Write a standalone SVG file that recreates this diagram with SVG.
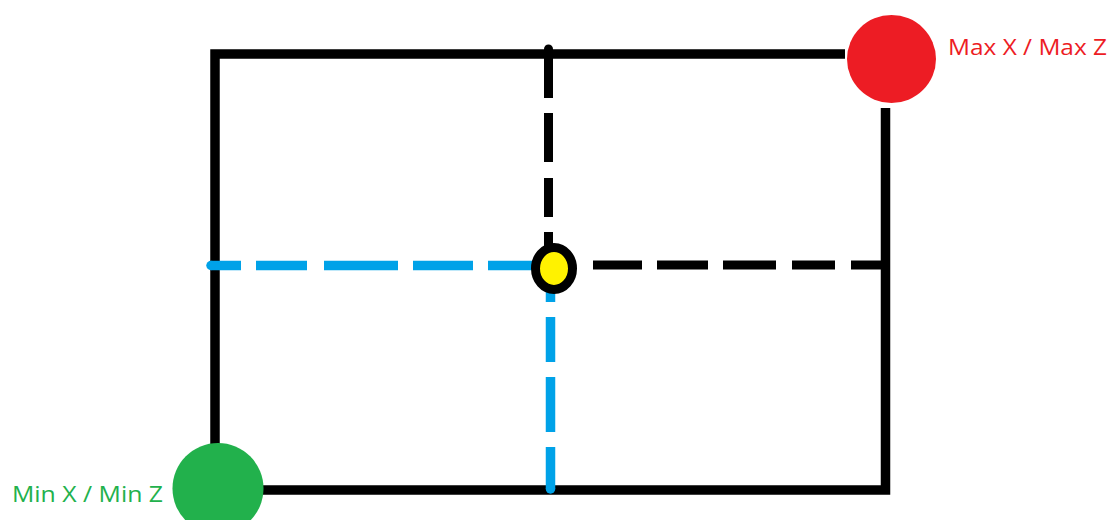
<svg xmlns="http://www.w3.org/2000/svg" width="1115" height="520" viewBox="0 0 1115 520">
  <style>
    .frame { fill: none; stroke: #000; stroke-width: 9.5; stroke-linejoin: miter; stroke-linecap: butt; }
    .dash-k { stroke: #000; stroke-width: 9; stroke-linecap: butt; }
    .dash-b { stroke: #00A2E8; stroke-width: 9.5; stroke-linecap: butt; }
    .lbl { font-family: "Open Sans", "Liberation Sans", sans-serif; font-size: 22px; }
  </style>
  <rect width="1115" height="520" fill="#fff"/>
  <g id="frame">
    <path class="frame" d="M215 445 V54 H845"/>
    <path class="frame" d="M885.5 108 V490 H255"/>
  </g>
  <g id="connectors">
    <g id="vertical-black">
      <line class="dash-k" x1="548.5" y1="49" x2="548.5" y2="98"/>
      <circle cx="548.5" cy="49" r="4.5" fill="#000"/>
      <line class="dash-k" x1="548.5" y1="113" x2="548.5" y2="162"/>
      <line class="dash-k" x1="548.5" y1="178" x2="548.5" y2="217"/>
      <line class="dash-k" x1="548.5" y1="232" x2="548.5" y2="250"/>
    </g>
    <g id="horizontal-black">
      <line class="dash-k" x1="593" y1="265" x2="642" y2="265"/>
      <line class="dash-k" x1="657" y1="265" x2="708" y2="265"/>
      <line class="dash-k" x1="723" y1="265" x2="776" y2="265"/>
      <line class="dash-k" x1="792" y1="265" x2="835" y2="265"/>
      <line class="dash-k" x1="851" y1="265" x2="883" y2="265"/>
    </g>
    <g id="horizontal-blue">
      <line class="dash-b" x1="211" y1="265.5" x2="241" y2="265.5"/>
      <circle cx="211" cy="265.5" r="4.75" fill="#00A2E8"/>
      <line class="dash-b" x1="256" y1="265.5" x2="307" y2="265.5"/>
      <line class="dash-b" x1="324" y1="265.5" x2="398" y2="265.5"/>
      <line class="dash-b" x1="413" y1="265.5" x2="473" y2="265.5"/>
      <line class="dash-b" x1="488" y1="265.5" x2="535" y2="265.5"/>
    </g>
    <g id="vertical-blue">
      <line class="dash-b" x1="550.5" y1="285" x2="550.5" y2="302"/>
      <line class="dash-b" x1="550.5" y1="317" x2="550.5" y2="362"/>
      <line class="dash-b" x1="550.5" y1="377" x2="550.5" y2="432"/>
      <line class="dash-b" x1="550.5" y1="447" x2="550.5" y2="489"/>
      <circle cx="550.5" cy="489" r="4.75" fill="#00A2E8"/>
    </g>
  </g>
  <g id="center-point">
    <ellipse cx="554" cy="268.5" rx="18.5" ry="21" fill="#FFF200" stroke="#000" stroke-width="9"/>
  </g>
  <g id="max-point">
    <ellipse cx="891.5" cy="59" rx="44.5" ry="44" fill="#ED1C24"/>
    <text class="lbl" x="948" y="55" fill="#ED1C24" textLength="159" lengthAdjust="spacingAndGlyphs">Max X / Max Z</text>
  </g>
  <g id="min-point">
    <ellipse cx="218" cy="488.5" rx="45.5" ry="45.5" fill="#22B14C"/>
    <text class="lbl" x="12" y="502" fill="#22B14C" textLength="151" lengthAdjust="spacingAndGlyphs">Min X / Min Z</text>
  </g>
</svg>
